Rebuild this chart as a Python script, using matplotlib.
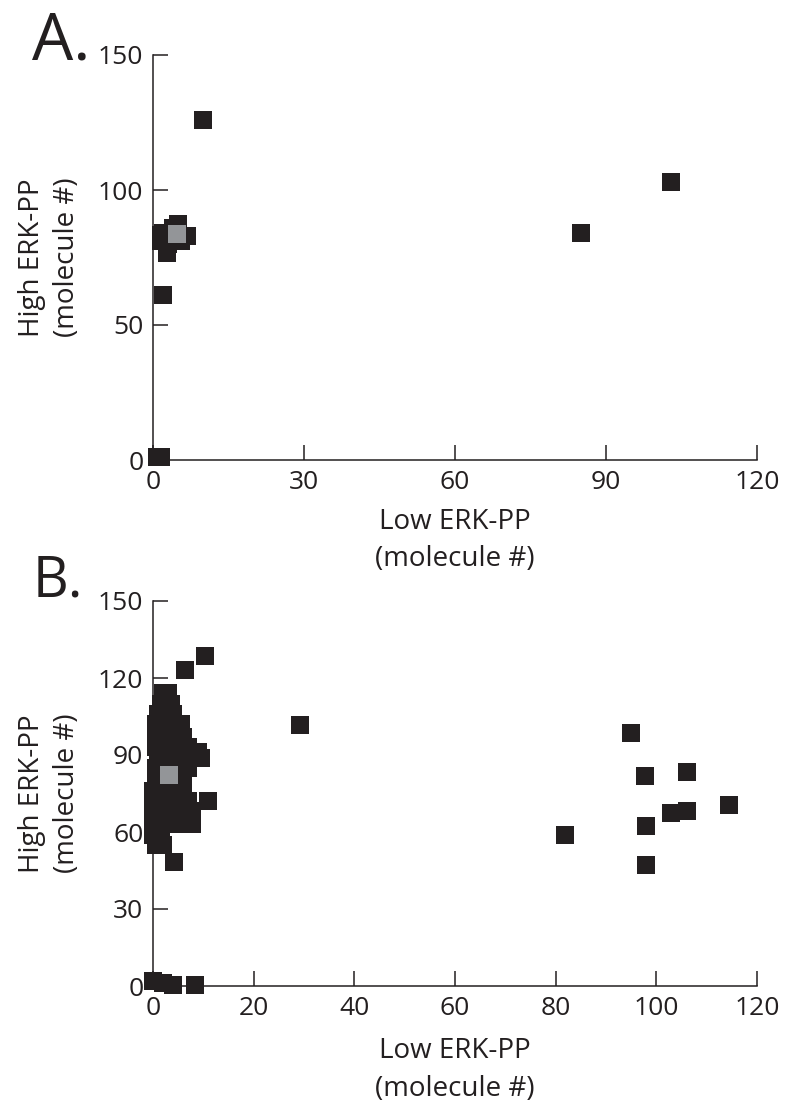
import matplotlib
matplotlib.use("Agg")
import matplotlib.pyplot as plt

plt.rcParams["font.family"] = ["Open Sans", "DejaVu Sans"]

INK = "#231f20"
GREY = "#939598"

# panel A: single cells, low vs high ERK-PP
a_low = [10, 103, 85, 2, 1.5, 0.8,
         5, 4, 2, 1.5, 6.7, 3, 2.7, 5.5, 1.5]
a_high = [126, 103, 84, 61, 1, 1,
          87.5, 86, 84, 81, 83, 80, 76.5, 81, 83.5]
a_mean = (4.8, 83.7)

# panel B
b_low = [10.3, 6.4, 29.2,
         95, 97.8, 106.1, 81.9, 98, 98, 103, 106, 114.5,
         0, 2, 4, 8.4,
         2, 3,
         1.5, 3.5,
         1, 2.5, 4,
         0.5, 2, 4, 5.5,
         0.5, 2, 4, 6,
         0.5, 2.5, 5, 7,
         1, 3, 5, 7.5, 9.5, 9,
         0.5, 2.5, 5, 7,
         0.5, 2, 4.5, 6,
         0, 2, 4, 6,
         0, 2, 4.5, 7, 11,
         0, 2.5, 5, 7.8,
         0, 2, 4.5, 7.8,
         0, 1.5,
         0.5, 2,
         4.1]
b_high = [128.6, 123.2, 101.5,
          98.7, 81.8, 83.5, 59, 62.5, 47, 67.5, 68, 70.5,
          2, 1, 0.5, 0.5,
          114, 114,
          110, 110,
          106, 106, 106,
          102, 102, 102, 102,
          97, 97, 97, 97,
          93, 93, 93, 93,
          89, 89, 89, 89, 89, 91,
          85, 85, 85, 85,
          80, 80, 80, 80,
          76, 76, 76, 76,
          72, 72, 72, 72, 72,
          68, 68, 68, 68,
          63, 63, 63, 63,
          59, 59,
          55, 55,
          48.5]
b_mean = (3.2, 82.3)

a_xticks = [0, 30, 60, 90, 120]
a_yticks = [0, 50, 100, 150]
b_xticks = [0, 20, 40, 60, 80, 100, 120]
b_yticks = [0, 30, 60, 90, 120, 150]

fig = plt.figure(figsize=(7.85, 11.09), dpi=100)
W, H = 785, 1109


def add_panel(box, low, high, mean, xticks, yticks):
    x0, y0, x1, y1 = box
    ax = fig.add_axes([x0 / W, 1 - y1 / H, (x1 - x0) / W, (y1 - y0) / H])
    ax.plot(low, high, "s", ms=13, color=INK, mew=0, clip_on=False, zorder=3)
    ax.plot(*mean, "s", ms=13, color=GREY, mew=0, clip_on=False, zorder=4)
    ax.set_xlim(0, 120)
    ax.set_ylim(0, 150)
    ax.set_xticks(xticks)
    ax.set_yticks(yticks)
    for s in ["top", "right"]:
        ax.spines[s].set_visible(False)
    for s in ["left", "bottom"]:
        ax.spines[s].set_linewidth(1.1)
        ax.spines[s].set_color(INK)
    ax.tick_params(direction="in", length=11, width=1.1, color=INK,
                   labelsize=19, labelcolor=INK)
    ax.tick_params(axis="y", pad=7)
    ax.tick_params(axis="x", pad=7)
    ax.set_xlabel("Low ERK-PP\n(molecule #)", fontsize=20, color=INK, linespacing=1.45)
    ax.set_ylabel("High ERK-PP\n(molecule #)", fontsize=20, color=INK, linespacing=1.3)
    return ax


axA = add_panel((153, 55, 757, 460), a_low, a_high, a_mean, a_xticks, a_yticks)
axA.xaxis.set_label_coords(0.5, -0.118)
axA.yaxis.set_label_coords(-0.12, 0.5)

axB = add_panel((153, 601, 757, 986), b_low, b_high, b_mean, b_xticks, b_yticks)
axB.xaxis.set_label_coords(0.5, -0.133)
axB.yaxis.set_label_coords(-0.12, 0.5)

fig.text(61 / W, 1 - 42 / H, "A.", fontsize=47, color=INK, ha="center", va="center")
fig.text(58 / W, 1 - 582 / H, "B.", fontsize=40, color=INK, ha="center", va="center")

fig.savefig("out.png", dpi=100, facecolor="white")
